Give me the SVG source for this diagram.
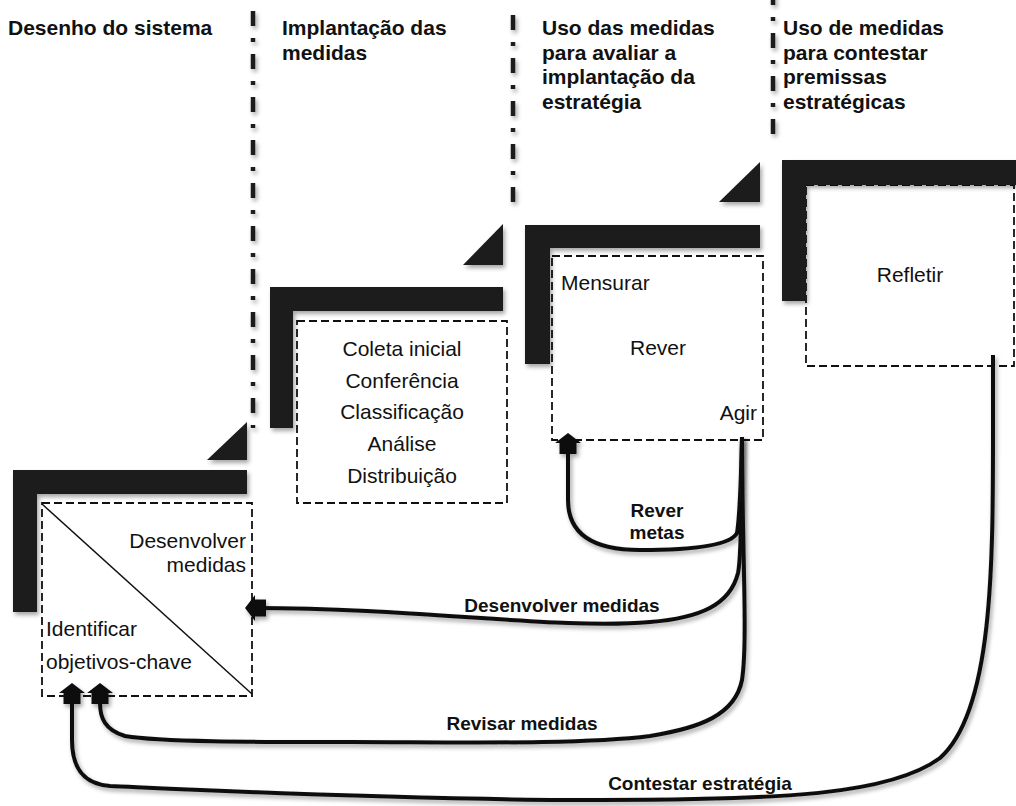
<svg xmlns="http://www.w3.org/2000/svg" width="1016" height="806" viewBox="0 0 1016 806">
  <defs>
    <style>
      .head { font-family: "Liberation Sans", Arial, sans-serif; font-weight: bold; font-size: 21px; fill: #111; }
      .lbl { font-family: "Liberation Sans", Arial, sans-serif; font-size: 21px; fill: #111; }
      .flow { font-family: "Liberation Sans", Arial, sans-serif; font-weight: bold; font-size: 19px; fill: #111; }
      .bar { fill: #1a1a1a; filter: url(#shadow); }
      .box { fill: none; stroke: #111; stroke-width: 1.8; stroke-dasharray: 8 4; }
      .divider { stroke: #1a1a1a; stroke-width: 4.5; stroke-dasharray: 15 12 4 12; fill: none; filter: url(#shadow); }
      .link { fill: none; stroke: #111; stroke-width: 4; filter: url(#shadow); }
    </style>
    <filter id="shadow" filterUnits="userSpaceOnUse" x="-20" y="-20" width="1060" height="850">
      <feDropShadow dx="2" dy="3" stdDeviation="2" flood-color="#000" flood-opacity="0.35"/>
    </filter>
    <marker id="head" markerUnits="userSpaceOnUse" markerWidth="40" markerHeight="40" refX="0" refY="0" orient="auto" overflow="visible">
      <path d="M10,0 L0,-13 L0,-8.5 L-11,-8.5 L-11,8.5 L0,8.5 L0,13 Z" fill="#111"/>
    </marker>
  </defs>

  <!-- phase dividers -->
  <g id="dividers">
    <line class="divider" x1="253" y1="11" x2="253" y2="428"/>
    <line class="divider" x1="513" y1="15" x2="513" y2="205"/>
    <line class="divider" x1="773" y1="-10" x2="773" y2="140"/>
  </g>

  <!-- phase titles -->
  <g id="titles">
    <text class="head" x="8" y="35">Desenho do sistema</text>
    <text class="head" x="282" y="35">Implantação das</text>
    <text class="head" x="282" y="60">medidas</text>
    <text class="head" x="542" y="35">Uso das medidas</text>
    <text class="head" x="542" y="59.5">para avaliar a</text>
    <text class="head" x="542" y="84">implantação da</text>
    <text class="head" x="542" y="108.5">estratégia</text>
    <text class="head" x="783" y="35">Uso de medidas</text>
    <text class="head" x="783" y="59.5">para contestar</text>
    <text class="head" x="783" y="84">premissas</text>
    <text class="head" x="783" y="108.5">estratégicas</text>
  </g>

  <!-- stage 1: system design -->
  <g id="stage-design">
    <rect class="box" x="42" y="503" width="210" height="193"/>
    <line x1="42" y1="504" x2="252" y2="694" stroke="#111" stroke-width="1.5"/>
    <path class="bar" d="M13,470 H247 V494 H37 V612 H13 Z"/>
    <path class="bar" d="M207,460 L247,422 L247,460 Z"/>
    <text class="lbl" x="246" y="548" text-anchor="end">Desenvolver</text>
    <text class="lbl" x="246" y="572" text-anchor="end">medidas</text>
    <text class="lbl" x="46" y="636">Identificar</text>
    <text class="lbl" x="46" y="669">objetivos-chave</text>
  </g>

  <!-- stage 2: rollout of measures -->
  <g id="stage-rollout">
    <rect class="box" x="297" y="321" width="210" height="182"/>
    <path class="bar" d="M270,287 H503 V311 H293 V428 H270 Z"/>
    <path class="bar" d="M463,265 L503,224 L503,265 Z"/>
    <text class="lbl" x="402" y="356" text-anchor="middle">Coleta inicial</text>
    <text class="lbl" x="402" y="388" text-anchor="middle">Conferência</text>
    <text class="lbl" x="402" y="419" text-anchor="middle">Classificação</text>
    <text class="lbl" x="402" y="451" text-anchor="middle">Análise</text>
    <text class="lbl" x="402" y="483" text-anchor="middle">Distribuição</text>
  </g>

  <!-- stage 3: evaluate strategy rollout -->
  <g id="stage-evaluate">
    <rect class="box" x="552" y="256" width="211" height="184"/>
    <path class="bar" d="M525,225 H760 V248 H550 V364 H525 Z"/>
    <path class="bar" d="M719,202 L760,162 L760,202 Z"/>
    <text class="lbl" x="561" y="290">Mensurar</text>
    <text class="lbl" x="658" y="355" text-anchor="middle">Rever</text>
    <text class="lbl" x="757" y="420" text-anchor="end">Agir</text>
  </g>

  <!-- stage 4: challenge strategic assumptions -->
  <g id="stage-reflect">
    <rect class="box" x="806" y="185" width="208" height="181"/>
    <path class="bar" d="M782,160 H1016 V185 H806 V301 H782 Z"/>
    <text class="lbl" x="910" y="282" text-anchor="middle">Refletir</text>
  </g>

  <!-- feedback loops -->
  <g id="connectors">
    <path class="link" marker-end="url(#head)" d="M742,437 C741,480 740,515 737,533 C730,546 690,550 640,550 C590,550 568,532 568,500 L568,443"/>
    <path class="link" marker-end="url(#head)" d="M742,437 C741,500 742,555 738,573 C730,605 700,618 650,622 C560,630 420,608 255,608"/>
    <path class="link" marker-end="url(#head)" d="M742,437 C742,550 748,640 742,680 C735,715 700,728 650,736 C580,745 450,742 350,742 C250,742 160,742 125,736 C105,730 100,718 100,703 L100,693"/>
    <path class="link" marker-end="url(#head)" d="M993,355 L993,420 C993,560 994,710 940,758 C890,795 780,800 600,800 C400,800 200,790 110,786 C85,784 72,770 72,740 L72,693"/>
  </g>

  <!-- loop labels -->
  <g id="connector-labels">
    <text class="flow" x="657" y="517" text-anchor="middle">Rever</text>
    <text class="flow" x="657" y="539" text-anchor="middle">metas</text>
    <text class="flow" x="562" y="612" text-anchor="middle">Desenvolver medidas</text>
    <text class="flow" x="522" y="730" text-anchor="middle">Revisar medidas</text>
    <text class="flow" x="700" y="790" text-anchor="middle">Contestar estratégia</text>
  </g>
</svg>
